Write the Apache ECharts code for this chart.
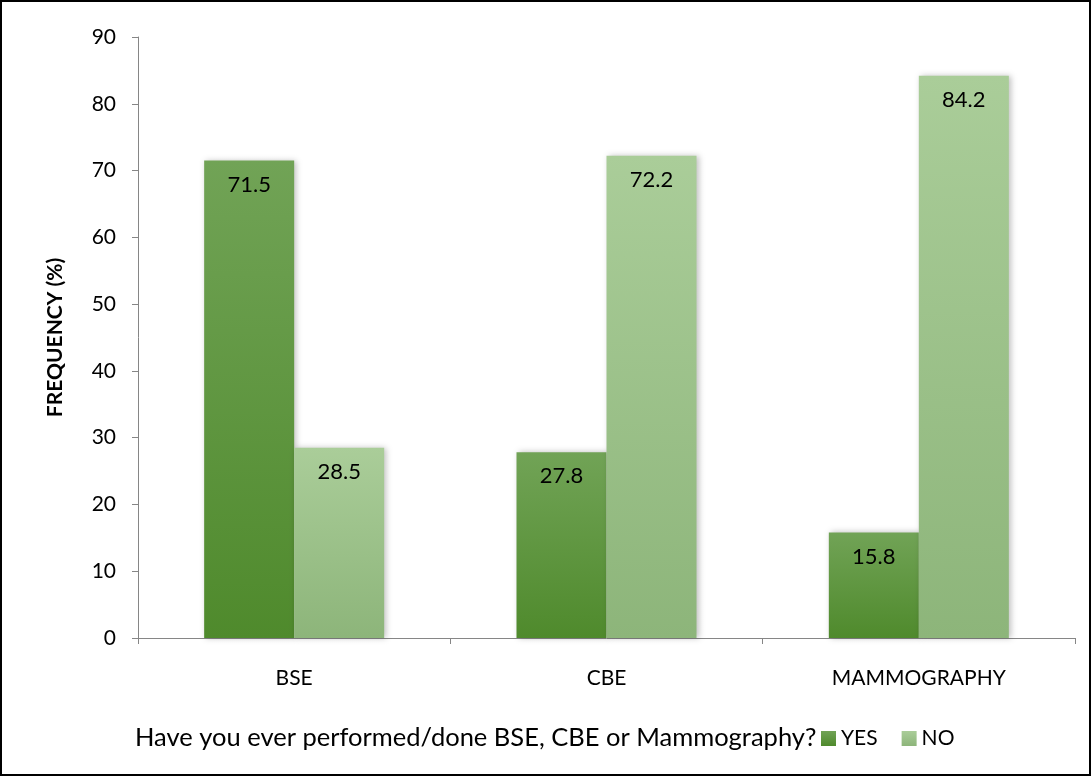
<!DOCTYPE html>
<html>
<head>
<meta charset="utf-8">
<script src="https://cdn.jsdelivr.net/npm/echarts@6/dist/echarts.min.js"></script>
<style>
  html, body { margin: 0; padding: 0; background: #fff; }
  #chart { width: 1091px; height: 776px; }
</style>
</head>
<body>
<div id="chart"></div>
<script>
const categories = ["BSE", "CBE", "MAMMOGRAPHY"];
const yesValues = [71.5, 27.8, 15.8];
const noValues = [28.5, 72.2, 84.2];
const yTicks = [0, 10, 20, 30, 40, 50, 60, 70, 80, 90];

const font = "Lato";

const myCharts = echarts.init(document.getElementById("chart"));

function grad(top, bottom) {
  return new echarts.graphic.LinearGradient(0, 0, 0, 1, [
    { offset: 0, color: top },
    { offset: 1, color: bottom },
  ]);
}

const options = {
  animation: false,
  backgroundColor: "#fff",
  textStyle: { fontFamily: font },
  title: {
    text: "Have you ever performed/done BSE, CBE or Mammography?",
    left: 130,
    top: 720,
    textStyle: { fontFamily: font, fontSize: 25.5, fontWeight: "normal", color: "#000" },
  },
  legend: {
    left: 816,
    top: 723,
    itemWidth: 15,
    itemHeight: 15,
    itemGap: 24,
    icon: "rect",
    textStyle: { fontFamily: font, fontSize: 21, color: "#000" },
    data: ["YES", "NO"],
  },
  graphic: [
    {
      type: "rect",
      shape: { x: 1, y: 1, width: 1089, height: 774 },
      style: { fill: "none", stroke: "#000", lineWidth: 2 },
    },
  ],
  grid: { left: 138, right: 16, top: 37, bottom: 138 },
  xAxis: {
    type: "category",
    data: categories,
    axisLine: { lineStyle: { color: "#868686", width: 1 } },
    axisTick: { show: true, length: 6, lineStyle: { color: "#868686" } },
    axisLabel: { color: "#000", fontSize: 21, margin: 30, fontFamily: font },
  },
  yAxis: {
    type: "value",
    min: 0,
    max: 90,
    interval: 10,
    name: "FREQUENCY (%)",
    nameLocation: "middle",
    nameGap: 72,
    nameTextStyle: { fontFamily: font, fontSize: 21, fontWeight: "bold", color: "#000" },
    axisLine: { show: true, lineStyle: { color: "#868686" } },
    axisTick: { show: true, length: 6, lineStyle: { color: "#868686" } },
    splitLine: { show: false },
    axisLabel: {
      color: "#000",
      fontSize: 21,
      margin: 22,
      fontFamily: font,
      formatter: (v) => (yTicks.indexOf(v) >= 0 ? String(v) : ""),
    },
  },
  series: [
    {
      name: "YES",
      type: "bar",
      data: yesValues,
      barWidth: 90,
      barGap: "0%",
      itemStyle: {
        color: grad("#71a356", "#4f8a2c"),
        shadowColor: "rgba(0,0,0,0.25)",
        shadowBlur: 6,
        shadowOffsetX: 2,
      },
      label: {
        show: true,
        position: "insideTop",
        distance: 13,
        color: "#000",
        fontSize: 22,
        fontFamily: font,
      },
    },
    {
      name: "NO",
      type: "bar",
      data: noValues,
      barWidth: 90,
      itemStyle: {
        color: grad("#aacd99", "#8db57a"),
        shadowColor: "rgba(0,0,0,0.25)",
        shadowBlur: 6,
        shadowOffsetX: 2,
      },
      label: {
        show: true,
        position: "insideTop",
        distance: 13,
        color: "#000",
        fontSize: 22,
        fontFamily: font,
      },
    },
  ],
};

myCharts.setOption(options, true);
</script>
</body>
</html>
